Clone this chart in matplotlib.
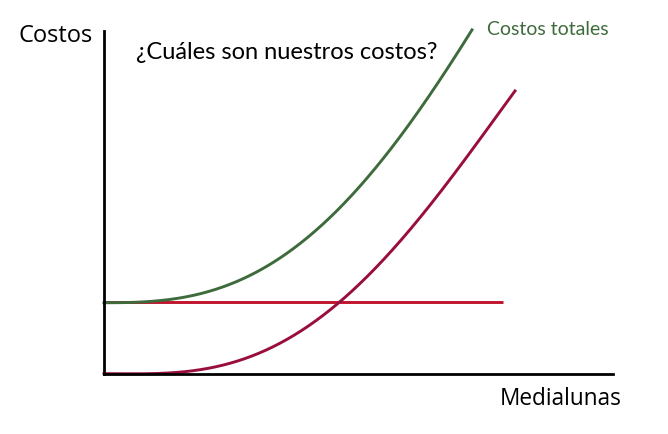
import matplotlib
matplotlib.use("Agg")
import matplotlib.pyplot as plt
import numpy as np

# Quantity (Medialunas) and cost values (arbitrary units)
q_variable = [0, 29, 79, 113, 146, 179, 213, 236, 259, 293, 326, 366, 411]
c_variable = [0, 2, 5, 10, 18, 32, 52, 72, 92, 128, 172, 222, 283]

q_total = [0, 29, 63, 96, 129, 163, 186, 219, 253, 286, 309, 329, 368]
c_total = [71, 73, 76, 82, 92, 107, 123, 148, 185, 222, 255, 288, 344]

q_fixed = [0, 399]
c_fixed = [72, 72]

title_text = "¿Cuáles son nuestros costos?"
ylabel_text = "Costos"
xlabel_text = "Medialunas"
total_label = "Costos totales"

W, H = 668, 435
fig = plt.figure(figsize=(W / 100, H / 100), dpi=100)
ax_left, ax_right, ax_bottom, ax_top = 104, 613, 375, 32
ax = fig.add_axes([ax_left / W, 1 - ax_bottom / H, (ax_right - ax_left) / W, (ax_bottom - ax_top) / H])
ax.set_xlim(0, ax_right - ax_left)
ax.set_ylim(0, ax_bottom - ax_top)

def smooth(xs, ys, n=400):
    # least-squares smoothing of the read points (flat start), for drawing only
    xs = np.asarray(xs, float); ys = np.asarray(ys, float)
    s = xs[-1]
    u = xs / s
    A = np.vstack([np.ones_like(u), u**2, u**3, u**4]).T
    w = np.ones_like(u); w[0] = w[-1] = 4.0
    coef, *_ = np.linalg.lstsq(A * w[:, None], ys * w, rcond=None)
    t = np.linspace(0, 1, n)
    B = np.vstack([np.ones_like(t), t**2, t**3, t**4]).T
    return t * s, B @ coef

tx, ty = smooth(q_total, c_total)
vx, vy = smooth(q_variable, c_variable)
ax.plot(q_fixed, c_fixed, color="#C0142C", lw=2.1, solid_capstyle="butt", clip_on=False)
ax.plot(tx, ty, color="#3E6B3C", lw=2.1, clip_on=False)
ax.plot(vx, vy, color="#9A0E3E", lw=2.1, clip_on=False)

for s in ["top", "right"]:
    ax.spines[s].set_visible(False)
for s in ["left", "bottom"]:
    ax.spines[s].set_linewidth(2.0)
    ax.spines[s].set_color("black")
ax.set_xticks([]); ax.set_yticks([])

fig.text(18 / W, 1 - 42 / H, ylabel_text, fontsize=17, family=["Open Sans", "DejaVu Sans"],
         color="black", ha="left", va="baseline")
fig.text(136 / W, 1 - 59 / H, title_text, fontsize=17, family=["Lato", "DejaVu Sans"],
         color="black", ha="left", va="baseline")
fig.text(487 / W, 1 - 35 / H, total_label, fontsize=14, family=["Lato", "DejaVu Sans"],
         color="#3E6B3C", ha="left", va="baseline")
fig.text(500 / W, 1 - 405 / H, xlabel_text, fontsize=16.3, family=["Open Sans", "DejaVu Sans"],
         color="black", ha="left", va="baseline")

fig.savefig("out.png", dpi=100)
